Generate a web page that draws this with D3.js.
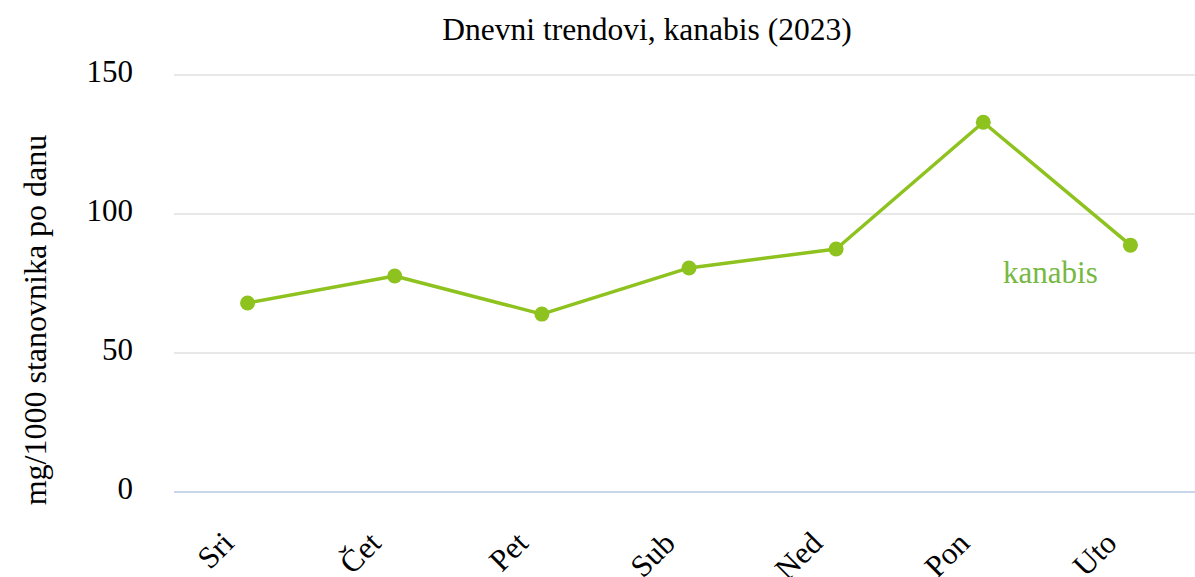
<!DOCTYPE html>
<html>
<head>
<meta charset="utf-8">
<script src="https://cdn.jsdelivr.net/npm/d3@7"></script>
<style>
  body { margin: 0; background: #fff; }
  svg { display: block; font-family: "Liberation Serif", "Times New Roman", serif; }
</style>
</head>
<body>
<svg id="chart" width="1195" height="577"></svg>
<script>
var days = ["Sri", "Čet", "Pet", "Sub", "Ned", "Pon", "Uto"];
var kanabis = [68, 77.7, 64, 80.6, 87.4, 133, 88.8];
var yTicks = [0, 50, 100, 150];
var seriesName = "kanabis";

var width = 1195, height = 577;
// plot area runs a little past the right edge of the picture
var margin = { top: 75, right: -9, bottom: 85, left: 174 };
var svg = d3.select("#chart");

var x = d3.scaleBand().domain(days).range([margin.left, width - margin.right]);
var y = d3.scaleLinear().domain([0, 150]).range([height - margin.bottom, margin.top]);

// gridlines
svg.append("g")
  .selectAll("line")
  .data(yTicks.filter(function (d) { return d > 0; }))
  .enter().append("line")
  .attr("x1", margin.left).attr("x2", width)
  .attr("y1", function (d) { return y(d); }).attr("y2", function (d) { return y(d); })
  .attr("stroke", "#e0e0e0").attr("stroke-width", 1.5);

// baseline
svg.append("line")
  .attr("x1", margin.left).attr("x2", width)
  .attr("y1", y(0)).attr("y2", y(0))
  .attr("stroke", "#c9d5ea").attr("stroke-width", 2);

// y axis labels
var yAxis = svg.append("g")
  .attr("transform", "translate(" + (margin.left - 41) + ",0)")
  .call(d3.axisLeft(y).tickValues(yTicks).tickSize(0).tickPadding(0));
yAxis.select(".domain").remove();
yAxis.attr("font-family", null).attr("font-size", null);
yAxis.selectAll("text")
  .style("font-family", "Liberation Serif")
  .style("font-size", "31px")
  .attr("fill", "#000")
  .attr("dy", "0.2em");

// x axis labels
var xAxis = svg.append("g")
  .attr("transform", "translate(0," + (y(0) + 53) + ")")
  .call(d3.axisBottom(x).tickSize(0));
xAxis.select(".domain").remove();
xAxis.attr("font-family", null).attr("font-size", null);
xAxis.selectAll("text")
  .style("font-family", "Liberation Serif")
  .style("font-size", "31px")
  .attr("fill", "#000")
  .attr("text-anchor", "end")
  .attr("x", 0)
  .attr("y", 0)
  .attr("dy", 0)
  .attr("transform", "translate(-12,0) rotate(-45)");

// line
var line = d3.line()
  .x(function (d, i) { return x(days[i]) + x.bandwidth() / 2; })
  .y(function (d) { return y(d); });

svg.append("path")
  .datum(kanabis)
  .attr("d", line)
  .attr("fill", "none")
  .attr("stroke", "#8dc21f")
  .attr("stroke-width", 3.5)
  .attr("stroke-linejoin", "round");

svg.append("g")
  .selectAll("circle")
  .data(kanabis)
  .enter().append("circle")
  .attr("cx", function (d, i) { return x(days[i]) + x.bandwidth() / 2; })
  .attr("cy", function (d) { return y(d); })
  .attr("r", 7.5)
  .attr("fill", "#8dc21f");

// series label near last point
var last = kanabis.length - 1;
svg.append("text")
  .attr("x", x(days[last]) + x.bandwidth() / 2 - 80)
  .attr("y", y(kanabis[last]) + 38)
  .attr("text-anchor", "middle")
  .style("font-size", "31px")
  .attr("fill", "#77b843")
  .text(seriesName);

// title
svg.append("text")
  .attr("x", 647).attr("y", 40)
  .attr("text-anchor", "middle")
  .style("font-size", "31.5px")
  .attr("fill", "#000")
  .text("Dnevni trendovi, kanabis (2023)");

// y label
svg.append("text")
  .attr("transform", "translate(46," + 320 + ") rotate(-90)")
  .attr("text-anchor", "middle")
  .style("font-size", "32px")
  .attr("fill", "#000")
  .text("mg/1000 stanovnika po danu");
</script>
</body>
</html>
